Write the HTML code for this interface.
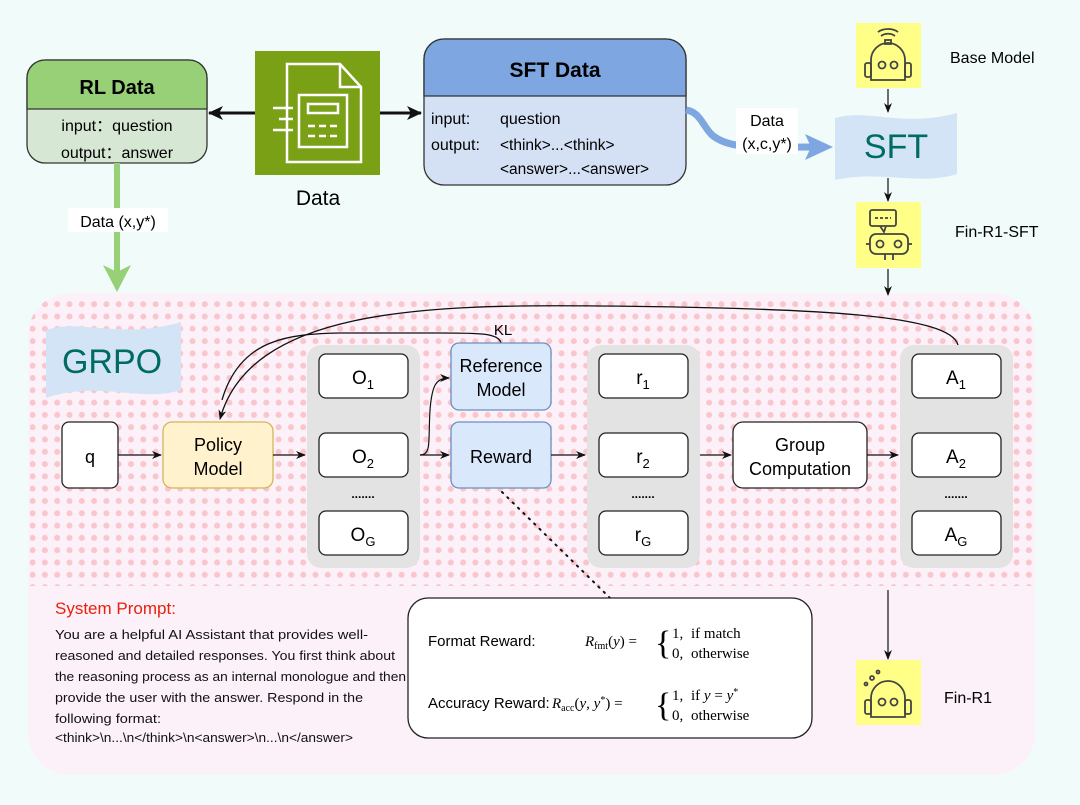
<!DOCTYPE html>
<html><head><meta charset="utf-8"><style>
html,body{margin:0;padding:0;background:#f1fcfa;}
svg{display:block;font-family:"Liberation Sans",sans-serif;}
</style></head><body>
<svg width="1080" height="805" viewBox="0 0 1080 805" xmlns="http://www.w3.org/2000/svg">
<defs>
<pattern id="dots" x="2" y="3" width="12.3" height="12.3" patternUnits="userSpaceOnUse">
<circle cx="6" cy="6" r="3" fill="#f8c6cc"/>
</pattern>
<marker id="ar" markerWidth="10" markerHeight="10" refX="9" refY="5" orient="auto" markerUnits="userSpaceOnUse"><path d="M0,1 L10,5 L0,9 L3,5 Z" fill="#111"/></marker>
<marker id="arb" markerWidth="16" markerHeight="16" refX="14" refY="8" orient="auto" markerUnits="userSpaceOnUse"><path d="M0,1 L15,8 L0,15 L4,8 Z" fill="#111"/></marker>
<clipPath id="pc"><rect x="28" y="293" width="1007" height="482" rx="42"/></clipPath>
</defs>
<rect width="1080" height="805" fill="#f1fcfa"/>

<rect x="28" y="293" width="1007" height="482" rx="42" fill="#fcf1f8"/>
<g clip-path="url(#pc)"><rect x="30" y="296" width="1005" height="290" fill="url(#dots)"/></g>

<!-- RL Data -->
<rect x="27" y="60" width="180" height="103" rx="18" fill="#d6e8d4" stroke="#333" stroke-width="1.3"/>
<path d="M27,109 V78 a18,18 0 0 1 18,-18 H189 a18,18 0 0 1 18,18 V109 Z" fill="#97d077" stroke="#333" stroke-width="1.3"/>
<text x="117" y="94" font-size="20" font-weight="bold" text-anchor="middle">RL Data</text>
<text x="117" y="131" font-size="16" text-anchor="middle">input：question</text>
<text x="117" y="158" font-size="16" text-anchor="middle">output：answer</text>

<line x1="117" y1="163" x2="117" y2="272" stroke="#97d077" stroke-width="6"/>
<path d="M103,265 L117,292 L131,265 L117,272 Z" fill="#97d077"/>
<rect x="68" y="208" width="100" height="24" fill="#fff"/>
<text x="118" y="227" font-size="16" text-anchor="middle">Data (x,y*)</text>

<!-- Data icon -->
<rect x="255" y="51" width="125" height="124" fill="#7aa116"/>
<g fill="none" stroke="#fff" stroke-width="2.5">
<path d="M287,162 V64 H340 L361,87 V162 Z M340,64 V87 H361"/>
<rect x="299" y="95" width="48" height="52" fill="#7aa116"/>
<rect x="308" y="104" width="30" height="9"/>
<line x1="308" y1="126" x2="340" y2="126" stroke-dasharray="7,4"/>
<line x1="308" y1="136" x2="340" y2="136" stroke-dasharray="7,4"/>
<line x1="273" y1="108" x2="293" y2="108"/>
<line x1="279" y1="119" x2="293" y2="119"/>
<line x1="273" y1="130" x2="293" y2="130"/>
</g>
<text x="318" y="205" font-size="21" text-anchor="middle">Data</text>
<line x1="255" y1="113" x2="209" y2="113" stroke="#111" stroke-width="3" marker-end="url(#arb)"/>
<line x1="380" y1="113" x2="421" y2="113" stroke="#111" stroke-width="3" marker-end="url(#arb)"/>

<!-- SFT Data -->
<rect x="424" y="39" width="262" height="146" rx="20" fill="#d4e1f5" stroke="#333" stroke-width="1.3"/>
<path d="M424,96 V59 a20,20 0 0 1 20,-20 H666 a20,20 0 0 1 20,20 V96 Z" fill="#7ea6e0" stroke="#333" stroke-width="1.3"/>
<text x="555" y="77" font-size="21" font-weight="bold" text-anchor="middle">SFT Data</text>
<text x="431" y="124" font-size="16">input:</text><text x="500" y="124" font-size="16">question</text>
<text x="431" y="150" font-size="16">output:</text><text x="500" y="150" font-size="15.5">&lt;think&gt;...&lt;think&gt;</text>
<text x="500" y="174" font-size="15.5">&lt;answer&gt;...&lt;answer&gt;</text>

<path d="M686,110 C700,112 702,125 712,135 C730,150 760,147 812,147" fill="none" stroke="#7ea6e0" stroke-width="7"/>
<path d="M805,134 L833,147 L805,160 L811,147 Z" fill="#7ea6e0"/>
<rect x="736" y="108" width="62" height="46" fill="#fff"/>
<text x="767" y="126" font-size="16" text-anchor="middle">Data</text>
<text x="767" y="149" font-size="16" text-anchor="middle">(x,c,y*)</text>

<!-- Base model robot -->
<rect x="856" y="23" width="65" height="65" fill="#ffff88"/>
<g fill="none" stroke="#444" stroke-width="1.8">
<path d="M871,80 V60 a17,17 0 0 1 34,0 V80 Z"/>
<rect x="865" y="63" width="6" height="14" rx="2"/><rect x="905" y="63" width="6" height="14" rx="2"/>
<circle cx="882" cy="65" r="3.5"/><circle cx="894" cy="65" r="3.5"/>
<rect x="885" y="40" width="6" height="4"/>
<path d="M881,36 a10,8 0 0 1 14,0 M878,32 a14,10 0 0 1 20,0"/>
</g>
<text x="950" y="63" font-size="16">Base Model</text>
<line x1="888" y1="89" x2="888" y2="112" stroke="#111" stroke-width="1.2" marker-end="url(#ar)"/>

<path d="M835,118 C870,108 900,128 957,113 V174 C920,186 880,170 835,180 Z" fill="#d4e4f7"/>
<text x="896" y="158" font-size="34" fill="#006b63" text-anchor="middle">SFT</text>
<line x1="888" y1="178" x2="888" y2="201" stroke="#111" stroke-width="1.2" marker-end="url(#ar)"/>

<!-- Fin-R1-SFT robot -->
<rect x="856" y="202" width="65" height="66" fill="#ffff88"/>
<g fill="none" stroke="#444" stroke-width="1.8">
<rect x="870" y="210" width="26" height="16" rx="2"/><path d="M880,226 L884,232 L886,226"/>
<line x1="875" y1="218" x2="891" y2="218" stroke-dasharray="3,2"/>
<rect x="870" y="234" width="38" height="20" rx="6"/>
<circle cx="880" cy="244" r="3.5"/><circle cx="898" cy="244" r="3.5"/>
<line x1="866" y1="244" x2="870" y2="244"/><line x1="908" y1="244" x2="912" y2="244"/>
<line x1="885" y1="254" x2="885" y2="260"/><line x1="893" y1="254" x2="893" y2="260"/>
</g>
<text x="955" y="237" font-size="16">Fin-R1-SFT</text>
<line x1="888" y1="269" x2="888" y2="295" stroke="#111" stroke-width="1.2" marker-end="url(#ar)"/>

<path d="M46,330 C80,318 120,340 181,322 V390 C140,403 100,380 46,398 Z" fill="#d4e4f7"/>
<text x="112" y="373" font-size="34" fill="#006b63" text-anchor="middle">GRPO</text>

<path d="M958,345 C950,315 820,308 600,306 C420,304 250,310 220,419" fill="none" stroke="#111" stroke-width="1.3" marker-end="url(#ar)"/>
<path d="M501,343 C498,333 480,333 440,333 L340,333 C290,334 240,338 222,400" fill="none" stroke="#111" stroke-width="1.3"/>
<text x="503" y="335" font-size="15" text-anchor="middle">KL</text>

<rect x="62" y="422" width="56" height="66" rx="7" fill="#fff" stroke="#222" stroke-width="1.3"/>
<text x="90" y="463" font-size="18" text-anchor="middle">q</text>
<line x1="118" y1="455" x2="161" y2="455" stroke="#111" stroke-width="1.2" marker-end="url(#ar)"/>
<rect x="163" y="422" width="110" height="66" rx="9" fill="#fff2cc" stroke="#d6b656" stroke-width="1.3"/>
<text x="218" y="451" font-size="18" text-anchor="middle">Policy</text>
<text x="218" y="475" font-size="18" text-anchor="middle">Model</text>
<line x1="273" y1="455" x2="305" y2="455" stroke="#111" stroke-width="1.2" marker-end="url(#ar)"/>

<g fill="#e3e3e3">
<rect x="307" y="345" width="113" height="223" rx="14"/>
<rect x="587" y="345" width="113" height="223" rx="14"/>
<rect x="900" y="345" width="113" height="223" rx="14"/>
</g>
<g fill="#fff" stroke="#222" stroke-width="1.3">
<rect x="319" y="354" width="89" height="44" rx="7"/><rect x="319" y="433" width="89" height="44" rx="7"/><rect x="319" y="511" width="89" height="44" rx="7"/>
<rect x="599" y="354" width="89" height="44" rx="7"/><rect x="599" y="433" width="89" height="44" rx="7"/><rect x="599" y="511" width="89" height="44" rx="7"/>
<rect x="912" y="354" width="89" height="44" rx="7"/><rect x="912" y="433" width="89" height="44" rx="7"/><rect x="912" y="511" width="89" height="44" rx="7"/>
</g>
<g font-size="19" text-anchor="middle">
<text x="363" y="384">O<tspan font-size="13" dy="5">1</tspan></text>
<text x="363" y="463">O<tspan font-size="13" dy="5">2</tspan></text>
<text x="363" y="541">O<tspan font-size="13" dy="5">G</tspan></text>
<text x="643" y="384">r<tspan font-size="13" dy="5">1</tspan></text>
<text x="643" y="463">r<tspan font-size="13" dy="5">2</tspan></text>
<text x="643" y="541">r<tspan font-size="13" dy="5">G</tspan></text>
<text x="956" y="384">A<tspan font-size="13" dy="5">1</tspan></text>
<text x="956" y="463">A<tspan font-size="13" dy="5">2</tspan></text>
<text x="956" y="541">A<tspan font-size="13" dy="5">G</tspan></text>
</g>
<g font-size="12" text-anchor="middle" font-weight="bold"><text x="363" y="498">.......</text><text x="643" y="498">.......</text><text x="956" y="498">.......</text></g>

<path d="M420,455 C432,455 428,440 430,410 C432,385 436,378 449,378" fill="none" stroke="#111" stroke-width="1.2" marker-end="url(#ar)"/>
<line x1="420" y1="455" x2="449" y2="455" stroke="#111" stroke-width="1.2" marker-end="url(#ar)"/>
<rect x="451" y="343" width="100" height="67" rx="8" fill="#dae8fc" stroke="#6c8ebf" stroke-width="1.3"/>
<text x="501" y="372" font-size="18" text-anchor="middle">Reference</text>
<text x="501" y="396" font-size="18" text-anchor="middle">Model</text>
<rect x="451" y="422" width="100" height="66" rx="8" fill="#dae8fc" stroke="#6c8ebf" stroke-width="1.3"/>
<text x="501" y="463" font-size="18" text-anchor="middle">Reward</text>
<line x1="551" y1="455" x2="585" y2="455" stroke="#111" stroke-width="1.2" marker-end="url(#ar)"/>
<line x1="700" y1="455" x2="731" y2="455" stroke="#111" stroke-width="1.2" marker-end="url(#ar)"/>
<rect x="733" y="422" width="134" height="66" rx="10" fill="#fff" stroke="#222" stroke-width="1.3"/>
<text x="800" y="451" font-size="18" text-anchor="middle">Group</text>
<text x="800" y="475" font-size="18" text-anchor="middle">Computation</text>
<line x1="867" y1="455" x2="898" y2="455" stroke="#111" stroke-width="1.2" marker-end="url(#ar)"/>

<line x1="502" y1="492" x2="610" y2="598" stroke="#111" stroke-width="2" stroke-dasharray="1.5,6" stroke-linecap="round"/>

<line x1="888" y1="590" x2="888" y2="659" stroke="#111" stroke-width="1.2" marker-end="url(#ar)"/>
<rect x="856" y="660" width="65" height="65" fill="#ffff88"/>
<g fill="none" stroke="#444" stroke-width="1.8">
<path d="M871,717 V698 a17,17 0 0 1 34,0 V717 Z"/>
<rect x="865" y="700" width="6" height="14" rx="2"/><rect x="905" y="700" width="6" height="14" rx="2"/>
<circle cx="882" cy="702" r="3.5"/><circle cx="894" cy="702" r="3.5"/>
<circle cx="872" cy="678" r="2"/><circle cx="866" cy="684" r="1.5"/><circle cx="878" cy="672" r="1.5"/>
</g>
<text x="944" y="703" font-size="16">Fin-R1</text>

<!-- system prompt -->
<text x="55" y="614" font-size="17" fill="#e8200c">System Prompt:</text>
<g font-size="13" fill="#111" lengthAdjust="spacingAndGlyphs">
<text x="55" y="639" textLength="313" lengthAdjust="spacingAndGlyphs">You are a helpful AI Assistant that provides well-</text>
<text x="55" y="660" textLength="340" lengthAdjust="spacingAndGlyphs">reasoned and detailed responses. You first think about</text>
<text x="55" y="681" textLength="351" lengthAdjust="spacingAndGlyphs">the reasoning process as an internal monologue and then</text>
<text x="55" y="702" textLength="308" lengthAdjust="spacingAndGlyphs">provide the user with the answer. Respond in the</text>
<text x="55" y="723" textLength="106" lengthAdjust="spacingAndGlyphs">following format:</text>
<text x="55" y="742" textLength="298" lengthAdjust="spacingAndGlyphs">&lt;think&gt;\n...\n&lt;/think&gt;\n&lt;answer&gt;\n...\n&lt;/answer&gt;</text>
</g>

<rect x="408" y="598" width="404" height="140" rx="20" fill="#fff" stroke="#222" stroke-width="1.3"/>
<text x="428" y="646" font-size="15">Format Reward:</text>
<text x="428" y="708" font-size="15">Accuracy Reward:</text>
<g font-family="Liberation Serif,serif" font-size="15">
<text x="585" y="646"><tspan font-style="italic">R</tspan><tspan font-size="10" dy="3">fmt</tspan><tspan dy="-3">(</tspan><tspan font-style="italic">y</tspan>) =</text>
<text x="655" y="654" font-size="34">{</text>
<text x="672" y="638">1,</text><text x="691" y="638">if match</text>
<text x="672" y="658">0,</text><text x="691" y="658">otherwise</text>
<text x="552" y="708"><tspan font-style="italic">R</tspan><tspan font-size="10" dy="3">acc</tspan><tspan dy="-3">(</tspan><tspan font-style="italic">y</tspan>, <tspan font-style="italic">y</tspan><tspan font-size="10" dy="-5">*</tspan><tspan dy="5">) =</tspan></text>
<text x="655" y="716" font-size="34">{</text>
<text x="672" y="700">1,</text><text x="691" y="700">if <tspan font-style="italic">y</tspan> = <tspan font-style="italic">y</tspan><tspan font-size="10" dy="-5">*</tspan></text>
<text x="672" y="720">0,</text><text x="691" y="720">otherwise</text>
</g>
</svg>
</body></html>
